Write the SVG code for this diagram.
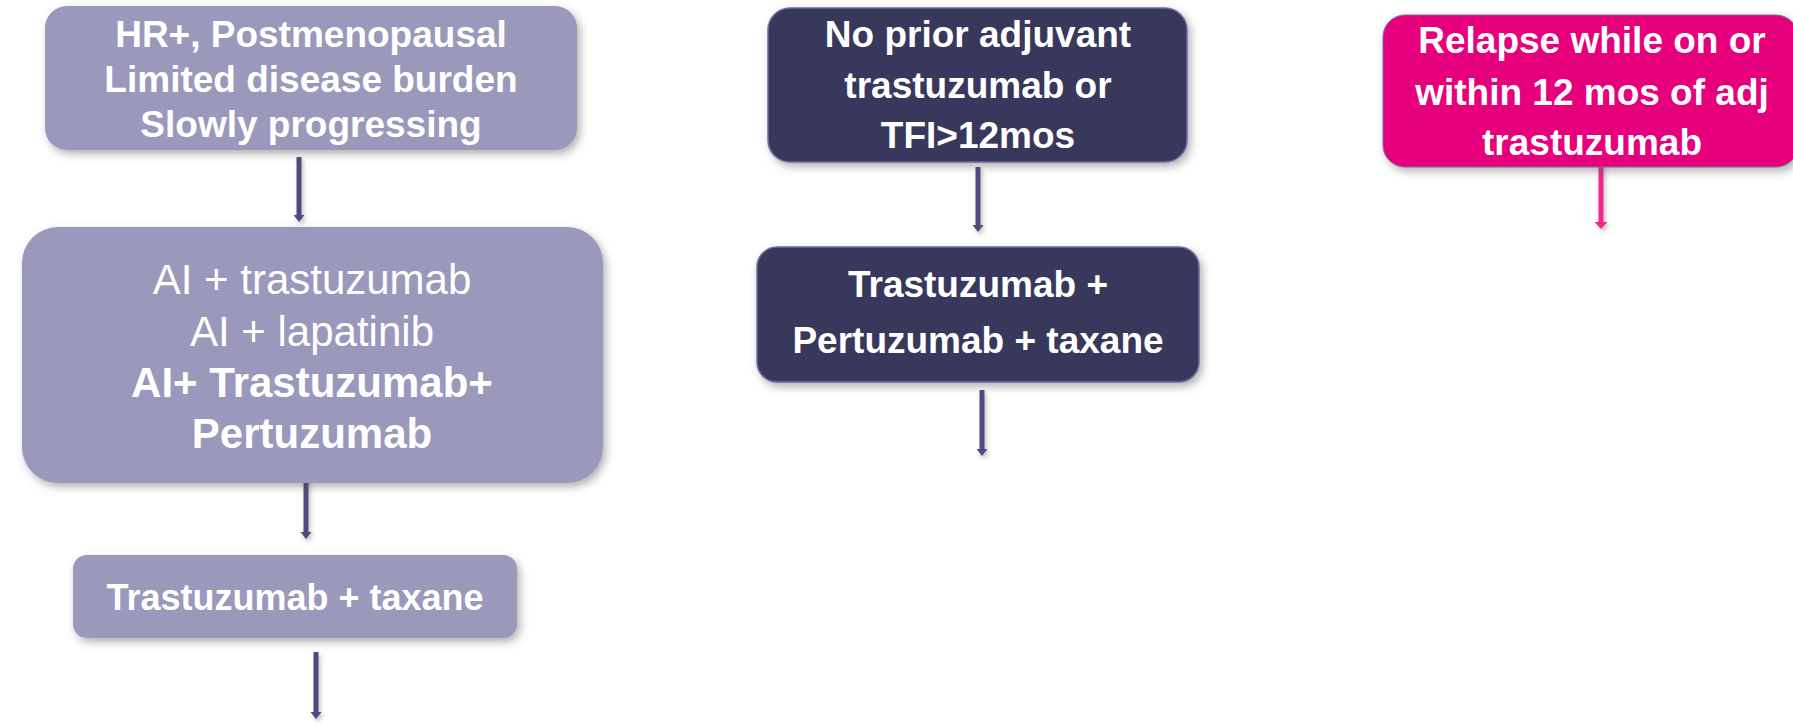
<svg xmlns="http://www.w3.org/2000/svg" width="1793" height="724" viewBox="0 0 1793 724">
  <defs>
    <filter id="shadow" x="-10%" y="-10%" width="125%" height="130%">
      <feDropShadow dx="3" dy="4" stdDeviation="4" flood-color="#555" flood-opacity="0.45"/>
    </filter>
    <filter id="ashadow" filterUnits="userSpaceOnUse" x="0" y="0" width="1793" height="724">
      <feDropShadow dx="2" dy="3" stdDeviation="2" flood-color="#666" flood-opacity="0.4"/>
    </filter>
    <marker id="headDark" markerUnits="userSpaceOnUse" markerWidth="8" markerHeight="12" refX="2" refY="6" orient="auto" viewBox="0 0 8 12">
      <path d="M0,0.5 L7,6 L0,11.5 Z" fill="#4d4c7d"/>
    </marker>
    <marker id="headPink" markerUnits="userSpaceOnUse" markerWidth="8" markerHeight="14" refX="2" refY="7" orient="auto" viewBox="0 0 8 14">
      <path d="M0,0.5 L7,7 L0,13.5 Z" fill="#f0288c"/>
    </marker>
  </defs>
  <style>
    .lav { fill: #9a98bb; filter: url(#shadow); }
    .dark { fill: #38375b; stroke: #6d6ca6; stroke-width: 1.5; filter: url(#shadow); }
    .pink { fill: #e6007b; stroke: #7d6aa8; stroke-width: 1; filter: url(#shadow); }
    .t { fill: #ffffff; text-anchor: middle; font-family: "Liberation Sans", Arial, sans-serif; }
    .b { font-weight: bold; }
    .c1 { font-size: 37px; font-weight: bold; }
    .c2 { font-size: 42px; }
    .cal { font-size: 37px; font-weight: bold; }
    .ad { stroke: #4d4c7d; stroke-width: 5; fill: none; marker-end: url(#headDark); }
    .ap { stroke: #f0288c; stroke-width: 5; fill: none; marker-end: url(#headPink); }
  </style>

  <g id="connectors" filter="url(#ashadow)">
    <path class="ad" d="M299,157 V217"/>
    <path class="ad" d="M306,473 V534"/>
    <path class="ad" d="M316,652 V714"/>
    <path class="ad" d="M978,167 V227"/>
    <path class="ad" d="M982,390 V451"/>
    <path class="ap" d="M1601,163 V224"/>
  </g>

  <g id="node-hr">
    <rect class="lav" x="45" y="6" width="532" height="144" rx="22"/>
    <text class="t c1" x="311" y="47">HR+, Postmenopausal</text>
    <text class="t c1" x="311" y="92">Limited disease burden</text>
    <text class="t c1" x="311" y="137">Slowly progressing</text>
  </g>

  <g id="node-ai">
    <rect class="lav" x="22" y="227" width="581" height="256" rx="36"/>
    <text class="t c2" x="312" y="294">AI + trastuzumab</text>
    <text class="t c2" x="312" y="346">AI + lapatinib</text>
    <text class="t c2 b" x="312" y="397">AI+ Trastuzumab+</text>
    <text class="t c2 b" x="312" y="448">Pertuzumab</text>
  </g>

  <g id="node-trast-taxane">
    <rect class="lav" x="73" y="555" width="444" height="83" rx="14"/>
    <text class="t cal" x="295" y="610" style="font-size:36px">Trastuzumab + taxane</text>
  </g>

  <g id="node-noprior">
    <rect class="dark" x="768" y="8" width="419" height="154" rx="22"/>
    <text class="t cal" x="978" y="47">No prior adjuvant</text>
    <text class="t cal" x="978" y="98">trastuzumab or</text>
    <text class="t cal" x="978" y="148">TFI&gt;12mos</text>
  </g>

  <g id="node-tpt">
    <rect class="dark" x="757" y="247" width="442" height="135" rx="20"/>
    <text class="t cal" x="978" y="297">Trastuzumab +</text>
    <text class="t cal" x="978" y="353">Pertuzumab + taxane</text>
  </g>

  <g id="node-relapse">
    <rect class="pink" x="1383" y="15" width="415" height="152" rx="22"/>
    <text class="t cal" x="1592" y="53">Relapse while on or</text>
    <text class="t cal" x="1592" y="105">within 12 mos of adj</text>
    <text class="t cal" x="1592" y="155">trastuzumab</text>
  </g>
</svg>
